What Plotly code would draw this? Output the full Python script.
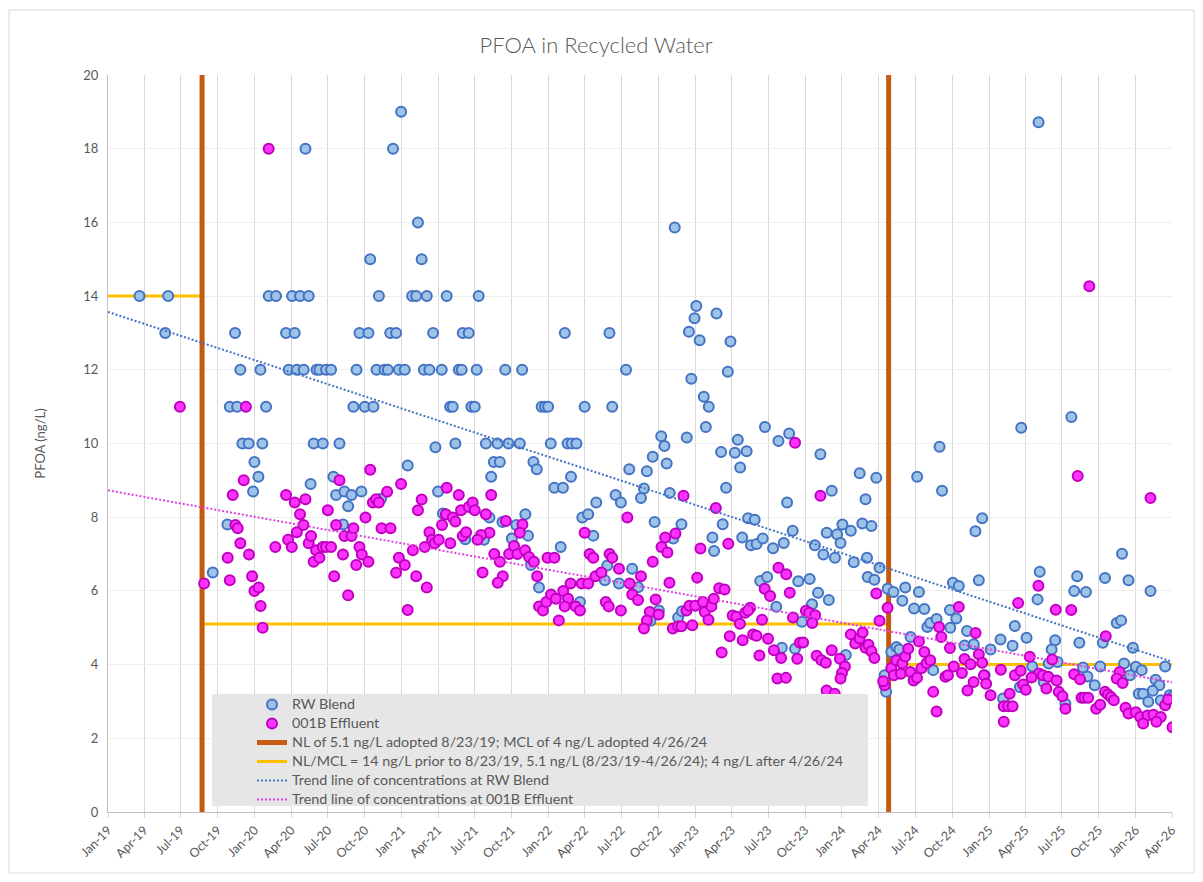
import plotly.graph_objects as go
from datetime import datetime

# ---------------- DATA (dates as decimal years, values in ng/L) ----------------
rw_dates = [
    2019.215, 2019.41, 2019.39, 2020.345, 2020.995, 2020.94, 2021.11, 2020.785, 2021.135,
    2020.095, 2020.145, 2020.254, 2020.308, 2020.367, 2020.844, 2021.07, 2021.098, 2021.17, 2021.306, 2021.524,
    2019.866, 2020.213, 2020.272, 2020.712, 2020.773, 2020.921, 2020.961, 2021.213, 2021.415, 2021.456,
    2019.902, 2020.039, 2020.231, 2020.286, 2020.333, 2020.42, 2020.44, 2020.485, 2020.519, 2020.692,
    2020.828, 2020.882, 2020.905, 2020.98, 2021.02, 2021.15, 2021.188, 2021.272, 2021.388, 2021.408, 2021.51,
    2019.83, 2019.88, 2020.077, 2020.671, 2020.748, 2020.807, 2021.329, 2021.347, 2021.474, 2021.497,
    2019.916, 2019.959, 2020.052, 2020.401, 2020.463, 2020.576, 2021.365, 2021.229,
    2019.998, 2020.025, 2019.989, 2020.38, 2020.535, 2020.553, 2020.61, 2020.658, 2020.635, 2020.725,
    2020.859, 2021.04, 2021.247, 2021.28, 2021.433, 2019.814, 2020.6, 2019.714,
    2021.705, 2021.82, 2022.528, 2023.222, 2022.111, 2022.415, 2023.007, 2022.995, 2022.957, 2023.03,
    2023.145, 2023.24, 2022.973, 2022.86,
    2021.953, 2021.976, 2021.997, 2022.246, 2022.434, 2023.058, 2023.092, 2023.072,
    2021.573, 2021.652, 2021.727, 2021.804, 2022.015, 2022.13, 2022.158, 2022.19,
    2022.768, 2022.79, 2022.942, 2023.176, 2023.27, 2023.29, 2023.35, 2023.306, 2023.475, 2023.21,
    2021.627, 2021.668, 2021.897, 2021.92, 2021.609, 2022.153, 2022.04, 2022.098, 2022.55, 2022.67,
    2022.71, 2022.805, 2022.63, 2022.65, 2022.826, 2022.457, 2022.493, 2022.325, 2022.723, 2022.906,
    2021.842, 2021.597, 2021.686, 2021.78, 2022.23, 2022.27, 2023.187, 2023.36, 2023.405, 2021.86,
    2021.75, 2021.56, 2022.305, 2022.083, 2022.85, 2023.117, 2023.128, 2023.32, 2023.38, 2023.418,
    2023.46, 2021.88, 2022.4, 2022.384, 2022.57, 2022.48, 2022.61, 2021.935, 2022.214, 2023.443,
    2023.49, 2022.752, 2022.695, 2022.883, 2022.91,
    2023.64, 2023.567, 2023.853, 2023.626, 2023.93, 2024.12, 2024.233, 2024.16, 2023.53, 2023.603,
    2023.664, 2023.815, 2023.896, 2023.967, 2023.99, 2024.003, 2024.06, 2023.873, 2023.952, 2024.138,
    2024.2, 2024.17, 2024.08, 2024.255, 2024.175, 2024.22, 2023.702, 2023.78, 2023.837, 2023.91,
    2023.552, 2023.796, 2023.727, 2023.59, 2023.68, 2024.026, 2024.29, 2024.3,
    2025.219, 2025.561, 2024.663, 2024.511, 2024.68, 2024.953, 2024.907, 2025.906, 2025.345, 2025.6,
    2025.79, 2025.95, 2024.93, 2024.754, 2024.794, 2024.43, 2024.31, 2024.35, 2024.523, 2025.58,
    2025.66, 2026.1, 2024.41, 2024.49, 2024.56, 2025.33, 2024.734, 2024.777, 2024.58, 2024.6,
    2024.643, 2024.736, 2025.87, 2025.9, 2025.175, 2024.85, 2024.466, 2025.078, 2025.16, 2025.255,
    2025.45, 2025.426, 2025.615, 2025.775, 2024.833, 2024.896, 2025.01, 2025.98, 2024.335, 2024.37,
    2024.39, 2025.92, 2025.757, 2026.2, 2026.0, 2026.04, 2025.64, 2025.67, 2025.467, 2025.294,
    2025.406, 2024.62, 2024.97, 2025.372, 2025.21, 2025.095, 2025.72, 2025.96, 2026.135, 2026.16,
    2026.115, 2026.02, 2026.05, 2026.085, 2026.17, 2026.23, 2025.52, 2025.337, 2026.25,
]
rw_values = [
    14, 14, 13, 18, 19, 18, 16, 15, 15,
    14, 14, 14, 14, 14, 14, 14, 14, 14, 14, 14,
    13, 13, 13, 13, 13, 13, 13, 13, 13, 13,
    12, 12, 12, 12, 12, 12, 12, 12, 12, 12,
    12, 12, 12, 12, 12, 12, 12, 12, 12, 12, 12,
    11, 11, 11, 11, 11, 11, 11, 11, 11, 11,
    10, 10, 10, 10, 10, 10, 10, 9.9,
    9.5, 9.1, 8.7, 8.9, 9.1, 8.6, 8.7, 8.6, 8.3, 8.7,
    8.5, 9.4, 8.7, 8.1, 7.4, 7.8, 7.8, 6.5,
    12, 12, 12, 11.95, 13, 13, 13.73, 13.4, 13.03, 12.8,
    13.53, 12.77, 11.76, 15.86,
    11, 11, 11, 11, 11, 11.27, 11.0, 10.45,
    10, 10, 10, 10, 10, 10, 10, 10,
    10.2, 9.93, 10.16, 9.77, 9.75, 10.1, 9.79, 9.35, 10.45, 8.8,
    9.5, 9.5, 9.5, 9.3, 9.1, 9.1, 8.8, 8.8, 9.3, 9.25,
    9.64, 9.46, 8.52, 8.78, 8.66, 8.6, 8.4, 8.4, 7.87, 7.81,
    8.08, 7.99, 7.87, 7.79, 7.99, 8.08, 7.81, 7.97, 7.93, 7.5,
    7.42, 7.39, 7.5, 7.19, 7.42, 7.45, 7.08, 7.45, 7.24, 7.27,
    7.42, 6.7, 6.69, 6.29, 6.6, 6.2, 6.1, 6.09, 5.7, 6.27,
    6.38, 5.47, 5.19, 5.28, 5.45,
    10.27, 10.07, 9.71, 8.4, 8.72, 9.19, 9.07, 8.49, 7.16, 7.3,
    7.63, 7.24, 7.58, 7.54, 7.3, 7.8, 7.63, 6.99, 6.9, 7.83,
    7.76, 6.9, 6.78, 6.63, 6.38, 6.3, 6.26, 6.32, 5.95, 5.75,
    5.57, 5.64, 5.16, 4.46, 4.43, 4.26, 3.71, 3.26,
    10.43, 10.72, 9.91, 9.1, 8.72, 7.97, 7.62, 7.01, 6.52, 6.4,
    6.35, 6.29, 6.29, 6.22, 6.13, 6.09, 6.06, 5.97, 5.97, 6.0,
    5.97, 6.0, 5.73, 5.52, 5.51, 5.77, 5.48, 5.25, 5.02, 5.13,
    5.24, 5.0, 5.13, 5.2, 5.05, 4.91, 4.75, 4.68, 4.51, 4.73,
    4.66, 4.41, 4.59, 4.59, 4.52, 4.55, 4.41, 4.46, 4.34, 4.48,
    4.41, 4.03, 3.95, 3.95, 3.94, 3.85, 3.92, 3.68, 4.07, 3.95,
    4.03, 3.85, 3.71, 3.53, 3.39, 3.08, 3.44, 3.71, 3.59, 3.44,
    3.29, 3.21, 3.21, 2.99, 3.03, 3.17, 2.94, 18.72, 3.12,
]

eff_dates = [
    2019.49, 2020.095, 2019.94,
    2019.655, 2019.816, 2019.83, 2019.85, 2019.868, 2019.884, 2019.902, 2019.925, 2019.961, 2019.982,
    2019.998, 2020.027, 2020.04, 2020.054, 2020.14, 2020.213, 2020.227, 2020.252, 2020.272, 2020.286,
    2020.308, 2020.331, 2020.345, 2020.367, 2020.383, 2020.401, 2020.417, 2020.44, 2020.463, 2020.485,
    2020.519, 2020.497, 2020.54, 2020.553, 2020.576, 2020.6, 2020.61, 2020.658, 2020.635, 2020.671,
    2020.69, 2020.712, 2020.728, 2020.753, 2020.773, 2020.785, 2020.803, 2020.825, 2020.844, 2020.862,
    2020.923, 2020.9, 2020.961, 2020.98, 2020.995, 2021.02, 2021.04, 2021.075, 2021.098, 2021.11,
    2021.135, 2021.156, 2021.17, 2021.188, 2021.206, 2021.224, 2021.251, 2021.274, 2021.3, 2021.306,
    2021.33, 2021.347, 2021.365, 2021.388, 2021.404, 2021.415, 2021.438, 2021.456, 2021.483, 2021.497,
    2021.609, 2021.573, 2021.709, 2021.822, 2021.804, 2021.597, 2021.54, 2021.516, 2021.55, 2021.63,
    2021.668, 2021.688, 2021.654, 2021.731, 2021.765, 2021.788, 2021.84, 2021.867, 2021.9, 2021.922,
    2021.993, 2022.04, 2021.935, 2021.962, 2021.985, 2022.017, 2022.05, 2022.1, 2022.133, 2022.07,
    2022.11, 2022.15, 2022.185, 2022.214, 2022.226, 2022.27, 2022.246, 2022.28, 2022.305, 2022.32,
    2022.36, 2022.416, 2022.434, 2022.48, 2022.39, 2022.41, 2022.493, 2022.537, 2022.553, 2022.57,
    2022.61, 2022.63, 2022.71, 2022.73, 2022.69, 2022.67, 2022.65, 2022.75, 2022.77, 2022.795,
    2022.81, 2022.865, 2022.824, 2022.92, 2022.847, 2022.883, 2022.906, 2022.98, 2023.013, 2023.035,
    2022.94, 2022.96, 2023.0, 2023.053, 2023.065, 2023.09, 2023.11, 2023.126, 2023.14, 2023.163,
    2023.2, 2023.225, 2023.255, 2023.28, 2023.235, 2023.18,
    2023.68, 2023.853, 2023.567, 2023.62, 2023.473, 2023.51, 2023.644, 2024.233, 2024.255, 2023.374,
    2023.34, 2023.304, 2023.455, 2023.666, 2023.754, 2023.777, 2023.817, 2023.797, 2023.323, 2023.394,
    2023.417, 2023.496, 2023.536, 2023.585, 2023.437, 2023.713, 2023.735, 2023.695, 2023.827, 2023.86,
    2023.89, 2023.93, 2023.986, 2023.56, 2023.618, 2024.06, 2024.09, 2024.12, 2024.14, 2024.16,
    2024.18, 2024.2, 2024.22, 2024.02, 2024.0, 2023.99, 2023.895, 2023.95, 2024.29, 2024.28, 2023.36,
    2024.31, 2024.335, 2024.353, 2024.37, 2024.4, 2024.41, 2024.43, 2024.45, 2024.465, 2024.487,
    2024.51, 2024.523, 2024.56, 2024.54, 2024.575, 2024.6, 2024.62,
    2024.66, 2024.675, 2024.794, 2024.908, 2024.734, 2024.703, 2024.72, 2024.643,
    2025.604, 2026.1, 2025.336, 2025.198, 2025.454, 2025.56, 2025.795, 2025.277, 2025.43, 2024.93,
    2024.953, 2024.833, 2024.874, 2024.76, 2024.815, 2025.08, 2025.176, 2025.215, 2025.34, 2025.367,
    2025.403, 2025.29, 2025.58, 2025.62, 2025.46, 2025.89, 2025.87, 2025.91, 2024.895, 2024.965,
    2024.98, 2024.853, 2025.01, 2025.14, 2025.1, 2025.13, 2025.16, 2025.1, 2025.232, 2025.25,
    2025.39, 2025.475, 2025.5, 2025.52, 2025.63, 2025.65, 2025.675, 2025.73, 2025.757, 2025.79,
    2025.81, 2025.83, 2025.85, 2025.93, 2025.95, 2026.0, 2026.03, 2026.08, 2026.12, 2026.17,
    2026.2, 2026.22, 2025.683, 2026.05, 2026.14, 2026.25,
]
eff_values = [
    11, 18, 11,
    6.2, 6.9, 6.29, 8.6, 7.79, 7.7, 7.29, 9.0, 6.99, 6.4,
    6.0, 6.09, 5.59, 5.0, 7.19, 8.6, 7.39, 7.19, 8.4, 7.59,
    8.08, 7.79, 8.49, 7.29, 7.49, 6.79, 7.1, 6.9, 7.19, 7.19,
    7.19, 8.19, 6.4, 7.79, 9.0, 6.99, 7.49, 7.49, 5.88, 7.7,
    6.7, 7.19, 6.99, 7.99, 6.79, 9.29, 8.4, 8.49, 8.4, 7.7,
    7.7, 8.69, 6.49, 6.9, 8.9, 6.7, 5.48, 7.1, 6.4, 8.19,
    8.48, 7.19, 6.09, 7.59, 7.39, 7.29, 7.39, 7.79, 8.08, 8.8,
    7.29, 7.99, 7.88, 8.6, 8.19, 7.49, 7.59, 8.28, 8.4, 8.19,
    8.6, 8.08, 7.9, 7.8, 7.58, 7.58, 7.52, 7.39, 6.5, 7.0,
    6.79, 6.4, 6.22, 7.0, 7.22, 7.0, 7.1, 6.92, 6.79, 6.4,
    6.9, 6.9, 5.58, 5.47, 5.7, 5.9, 5.79, 6.0, 5.79, 5.2,
    5.58, 6.2, 5.58, 5.47, 6.2, 6.2, 7.58, 7.0, 6.9, 6.4,
    6.5, 7.0, 6.9, 6.6, 5.7, 5.58, 5.47, 7.99, 6.2, 5.9,
    5.75, 6.4, 6.79, 5.77, 5.43, 5.2, 4.98, 5.36, 7.19, 7.45,
    7.04, 7.56, 6.22, 8.58, 4.98, 5.04, 5.04, 5.07, 6.36, 7.15,
    5.47, 5.6, 5.6, 5.7, 5.43, 5.22, 5.58, 5.79, 8.25, 6.07,
    6.04, 7.28, 5.33, 5.3, 4.77, 4.33,
    10.02, 8.58, 6.63, 6.45, 6.06, 5.86, 5.95, 5.93, 5.19, 5.54,
    5.41, 5.11, 5.22, 5.28, 5.46, 5.41, 5.34, 5.13, 4.66, 4.82,
    4.78, 4.7, 4.39, 4.18, 4.25, 4.59, 4.6, 4.16, 4.24, 4.12,
    4.05, 4.39, 4.16, 3.62, 3.64, 4.82, 4.57, 4.71, 4.87, 4.46,
    4.54, 4.36, 4.18, 3.95, 3.77, 3.62, 3.3, 3.21, 3.44, 3.55, 5.47,
    5.54, 3.9, 3.71, 4.12, 3.75, 4.03, 4.22, 4.43, 3.8, 3.57,
    3.64, 4.63, 4.34, 3.9, 4.04, 4.12, 3.26,
    5.02, 4.75, 5.56, 4.86, 4.45, 3.67, 3.71, 2.73,
    9.12, 8.52, 6.14, 5.67, 5.49, 5.48, 4.77, 4.21, 4.14, 4.28,
    4.05, 4.15, 4.01, 3.95, 3.77, 3.86, 3.71, 3.83, 3.76, 3.71,
    3.67, 3.65, 3.74, 3.6, 3.57, 3.8, 3.62, 3.5, 3.53, 3.71,
    3.48, 3.3, 3.17, 3.21, 2.87, 2.87, 2.87, 2.45, 3.46, 3.32,
    3.35, 3.26, 3.14, 2.8, 3.1, 3.1, 3.1, 2.8, 2.91, 3.26,
    3.19, 3.12, 3.03, 2.83, 2.67, 2.71, 2.58, 2.62, 2.64, 2.58,
    2.9, 3.05, 14.27, 2.4, 2.45, 2.3,
]

# regulatory levels
nl_adopted = "2019-08-23"
mcl_adopted = "2024-04-26"
axis_start = "2019-01-01"
axis_end = "2026-04-01"
limit_before = 14
limit_nl = 5.1
limit_mcl = 4

# linear trend lines, values read at the axis start / end
trend_dates = [axis_start, axis_end]
rw_trend = [13.57, 4.08]
eff_trend = [8.73, 3.52]

# tick labels
tick_dates = ["2019-01-01", "2019-04-01", "2019-07-01", "2019-10-01", "2020-01-01", "2020-04-01",
              "2020-07-01", "2020-10-01", "2021-01-01", "2021-04-01", "2021-07-01", "2021-10-01",
              "2022-01-01", "2022-04-01", "2022-07-01", "2022-10-01", "2023-01-01", "2023-04-01",
              "2023-07-01", "2023-10-01", "2024-01-01", "2024-04-01", "2024-07-01", "2024-10-01",
              "2025-01-01", "2025-04-01", "2025-07-01", "2025-10-01", "2026-01-01", "2026-04-01"]
tick_labels = ["Jan-19", "Apr-19", "Jul-19", "Oct-19", "Jan-20", "Apr-20", "Jul-20", "Oct-20",
               "Jan-21", "Apr-21", "Jul-21", "Oct-21", "Jan-22", "Apr-22", "Jul-22", "Oct-22",
               "Jan-23", "Apr-23", "Jul-23", "Oct-23", "Jan-24", "Apr-24", "Jul-24", "Oct-24",
               "Jan-25", "Apr-25", "Jul-25", "Oct-25", "Jan-26", "Apr-26"]

# series names
name_rw = "RW Blend"
name_eff = "001B Effluent"
name_adopt = "NL of 5.1 ng/L adopted 8/23/19; MCL of 4 ng/L adopted 4/26/24"
name_limit = "NL/MCL = 14 ng/L prior to 8/23/19, 5.1 ng/L (8/23/19-4/26/24); 4 ng/L after 4/26/24"
name_trend_rw = "Trend line of concentrations at RW Blend"
name_trend_eff = "Trend line of concentrations at 001B Effluent"


def dec_to_dt(y):
    yr = int(y)
    start = datetime(yr, 1, 1)
    end = datetime(yr + 1, 1, 1)
    return start + (y - yr) * (end - start)


def leg(s):
    # larger legend text while keeping compact row spacing
    return "<span style='font-size:14.3px'>" + s + "</span>"


rw_x = [dec_to_dt(v) for v in rw_dates]
eff_x = [dec_to_dt(v) for v in eff_dates]

GRAY = "#595959"
FONT = "Lato, Noto Sans, sans-serif"

fig = go.Figure()

# yellow limit line
fig.add_trace(go.Scatter(
    x=[axis_start, nl_adopted, None, nl_adopted, mcl_adopted, None, mcl_adopted, axis_end],
    y=[limit_before, limit_before, None, limit_nl, limit_nl, None, limit_mcl, limit_mcl],
    mode="lines", line=dict(color="#FFC000", width=3),
    name=leg(name_limit), legendrank=4, hoverinfo="skip"))

# orange adoption lines
fig.add_trace(go.Scatter(
    x=[nl_adopted, nl_adopted, None, mcl_adopted, mcl_adopted],
    y=[0, 20, None, 0, 20],
    mode="lines", line=dict(color="#C55A11", width=5),
    name=leg(name_adopt), legendrank=3, hoverinfo="skip"))

fig.add_trace(go.Scatter(
    x=rw_x, y=rw_values, mode="markers", name=leg(name_rw),
    marker=dict(size=10, color="#9DC3E6", line=dict(color="#4472C4", width=2)),
    legendrank=1, hovertemplate="%{x|%m/%d/%y}: %{y} ng/L<extra>" + name_rw + "</extra>"))

fig.add_trace(go.Scatter(
    x=eff_x, y=eff_values, mode="markers", name=leg(name_eff),
    marker=dict(size=10, color="#FF33FF", line=dict(color="#C000C0", width=2)),
    legendrank=2, hovertemplate="%{x|%m/%d/%y}: %{y} ng/L<extra>" + name_eff + "</extra>"))

fig.add_trace(go.Scatter(
    x=trend_dates, y=rw_trend, mode="lines", name=leg(name_trend_rw),
    line=dict(color="#4472C4", width=2, dash="2px,2px"), legendrank=5, hoverinfo="skip"))

fig.add_trace(go.Scatter(
    x=trend_dates, y=eff_trend, mode="lines", name=leg(name_trend_eff),
    line=dict(color="#E040E0", width=2, dash="2px,2px"), legendrank=6, hoverinfo="skip"))

# page body has an 8px margin; figure occupies screen x 8..1195, y 8..874
OFF = 8
W, H = 1187, 866
PL, PR, PT, PB = 108, 1172, 75, 812   # plot area in screen pixels
L, R, T, B = PL - OFF, OFF + W - PR, PT - OFF, OFF + H - PB


def px_x(p):
    return (p - PL) / (PR - PL)


def px_y(p):
    return (PB - p) / (PB - PT)


fig.update_layout(
    width=W, height=H,
    margin=dict(l=L, r=R, t=T, b=B),
    paper_bgcolor="white", plot_bgcolor="white",
    font=dict(family=FONT, color=GRAY, size=12),
    title=dict(text="PFOA in Recycled Water", x=(596 - OFF) / W, xref="container", xanchor="center",
               y=1 - (45 - OFF) / H, yref="container", yanchor="middle",
               font=dict(size=22, color=GRAY, family=FONT, weight=300)),
    showlegend=True,
    legend=dict(x=px_x(252), y=px_y(690), xanchor="left", yanchor="top",
                bgcolor="rgba(0,0,0,0)", borderwidth=0,
                font=dict(size=12.2, color=GRAY, family=FONT),
                tracegroupgap=0),
    shapes=[
        dict(type="rect", xref="paper", yref="paper", layer="above",
             x0=px_x(212), x1=px_x(868), y0=px_y(806), y1=px_y(694),
             fillcolor="#E6E6E6", line=dict(width=0)),
        dict(type="rect", xref="paper", yref="paper", layer="below",
             x0=px_x(9), x1=px_x(1194), y0=px_y(873), y1=px_y(10),
             fillcolor="rgba(0,0,0,0)", line=dict(color="#D9D9D9", width=1)),
    ],
)

fig.update_xaxes(
    type="date", range=[axis_start, axis_end],
    tickmode="array", tickvals=tick_dates, ticktext=tick_labels, tickangle=-45,
    showgrid=True, gridcolor="#D9D9D9", gridwidth=1,
    showline=True, linecolor="#BFBFBF", linewidth=1,
    ticks="outside", ticklen=5, tickcolor="#D9D9D9",
    tickfont=dict(size=12.5, color=GRAY), zeroline=False)

fig.update_yaxes(
    range=[0, 20], dtick=2, tick0=0,
    showgrid=True, gridcolor="#EFEFEF", gridwidth=1,
    showline=True, linecolor="#BFBFBF", linewidth=1,
    ticks="", ticklabelstandoff=6, tickfont=dict(size=13, color=GRAY), zeroline=False,
    title=dict(text="PFOA (ng/L)", font=dict(size=13, color=GRAY), standoff=34))

fig.write_html("out.html")
